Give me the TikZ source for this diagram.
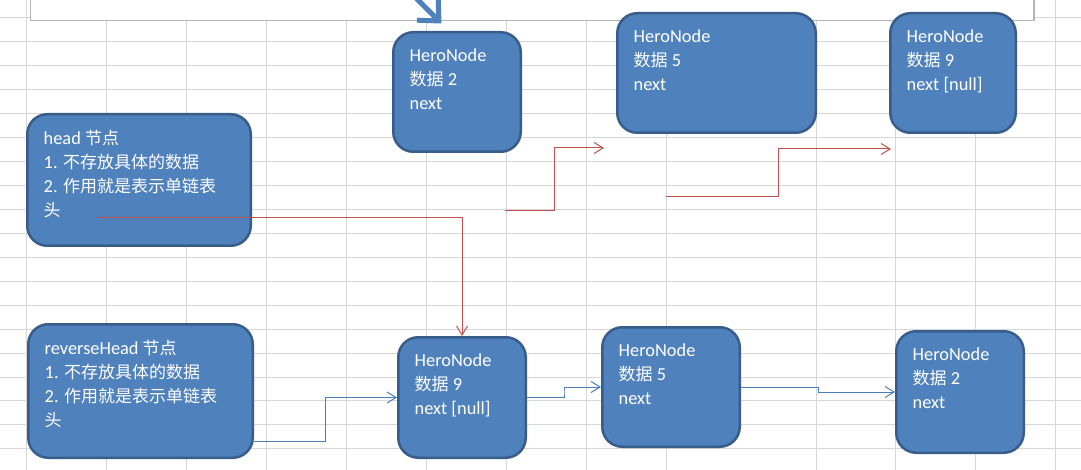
\documentclass[tikz,border=0pt]{standalone}
\usepackage{fontspec}
\setmainfont{Carlito}[Scale=1.08]
\newfontfamily\cjk{Noto Sans CJK SC}
\usepackage{xcolor}
\usepackage{tikz}
\usetikzlibrary{arrows.meta,calc}
\definecolor{nodefill}{HTML}{4F81BD}
\definecolor{nodeedge}{HTML}{385D8A}
\definecolor{linkred}{HTML}{C0504D}
\definecolor{linkblue}{HTML}{4A7EBB}
\definecolor{cellgrid}{HTML}{D6D6D6}
\definecolor{boxgrey}{HTML}{B4B4B4}
\tikzset{
  hero/.style={draw=nodeedge,fill=nodefill,line width=2.5pt,rounded corners=20pt,inner sep=0pt},
  herotext/.style={anchor=north west,align=left,text=white,draw=none,fill=none,inner sep=0pt,
    xshift=17.5pt,yshift=-17.5pt,font=\fontsize{17}{23.8}\selectfont},
  elbow/.style={to path={-| ($(\tikztostart)!0.5!(\tikztotarget)$) |- (\tikztotarget)}},
  redlink/.style={draw=linkred,line width=1pt,-{Straight Barb[length=9pt,width=11pt]}},
  bluelink/.style={draw=linkblue,line width=1pt,-{Straight Barb[length=9pt,width=11pt]}}
}
\begin{document}
\begin{tikzpicture}[x=1pt,y=-1pt]
\useasboundingbox (0,0) rectangle (1081,470);
% cells
\foreach \gx in {26.5,106.4,186.3,266.2,346.1,426.3,506.2,586.5,666.4,816.2,895.7,975.6,1055.5}
  \draw[cellgrid,line width=1pt] (\gx,0)--(\gx,470);
\foreach \k in {0,...,18}
  \draw[cellgrid,line width=1pt] (0,{17.6+23.96*\k})--(1081,{17.6+23.96*\k});
\draw[draw=boxgrey,fill=white,line width=1.2pt] (30.3,-10) rectangle (1034,20.3);
% nodes
\node[hero,minimum width=223.5pt,minimum height=131.5pt,
  label={[herotext]north west:head {\cjk 节点}\\1. {\cjk 不存放具体的数据}\\2. {\cjk 作用就是表示单链表}\\{\cjk 头}}] (head) at (139,180) {};
\node[hero,minimum width=127.5pt,minimum height=119.5pt,
  label={[herotext]north west:HeroNode\\{\cjk 数据} 2\\next}] (t2) at (457,92) {};
\node[hero,minimum width=198.5pt,minimum height=119.5pt,
  label={[herotext]north west:HeroNode\\{\cjk 数据} 5\\next}] (t5) at (716.5,73) {};
\node[hero,minimum width=125.5pt,minimum height=119.5pt,
  label={[herotext]north west:HeroNode\\{\cjk 数据} 9\\next {[null]}}] (t9) at (953,73) {};
\node[hero,minimum width=224.5pt,minimum height=133.5pt,
  label={[herotext]north west:reverseHead {\cjk 节点}\\1. {\cjk 不存放具体的数据}\\2. {\cjk 作用就是表示单链表}\\{\cjk 头}}] (rh) at (140.5,391) {};
\node[hero,minimum width=127.5pt,minimum height=120.5pt,
  label={[herotext]north west:HeroNode\\{\cjk 数据} 9\\next {[null]}}] (r9) at (462,397.5) {};
\node[hero,minimum width=137.5pt,minimum height=119.5pt,
  label={[herotext]north west:HeroNode\\{\cjk 数据} 5\\next}] (r5) at (671,387) {};
\node[hero,minimum width=127.5pt,minimum height=121.5pt,
  label={[herotext]north west:HeroNode\\{\cjk 数据} 2\\next}] (r2) at (960,392) {};
% free ends
\coordinate (headout) at (97,218);
\coordinate (s1) at (505,211);
\coordinate (e1) at (604,148);
\coordinate (s2) at (666,197);
\coordinate (e2) at (891,149);
\coordinate (rhout) at (254,441);
\coordinate (topa) at (406,-12);
\coordinate (topb) at (441.5,23.5);
% links
\draw[nodefill,line width=5pt,-{Straight Barb[length=16pt,width=30pt]}] (topa)--(topb);
\draw[redlink] (headout) -| (r9.north);
\draw[redlink] (s1) to[elbow] (e1);
\draw[redlink] (s2) to[elbow] (e2);
\draw[bluelink] (rhout) to[elbow] (r9.west);
\draw[bluelink] (r9.east) to[elbow] (r5.west);
\draw[bluelink] (r5.east) to[elbow] (r2.west);
\end{tikzpicture}
\end{document}
